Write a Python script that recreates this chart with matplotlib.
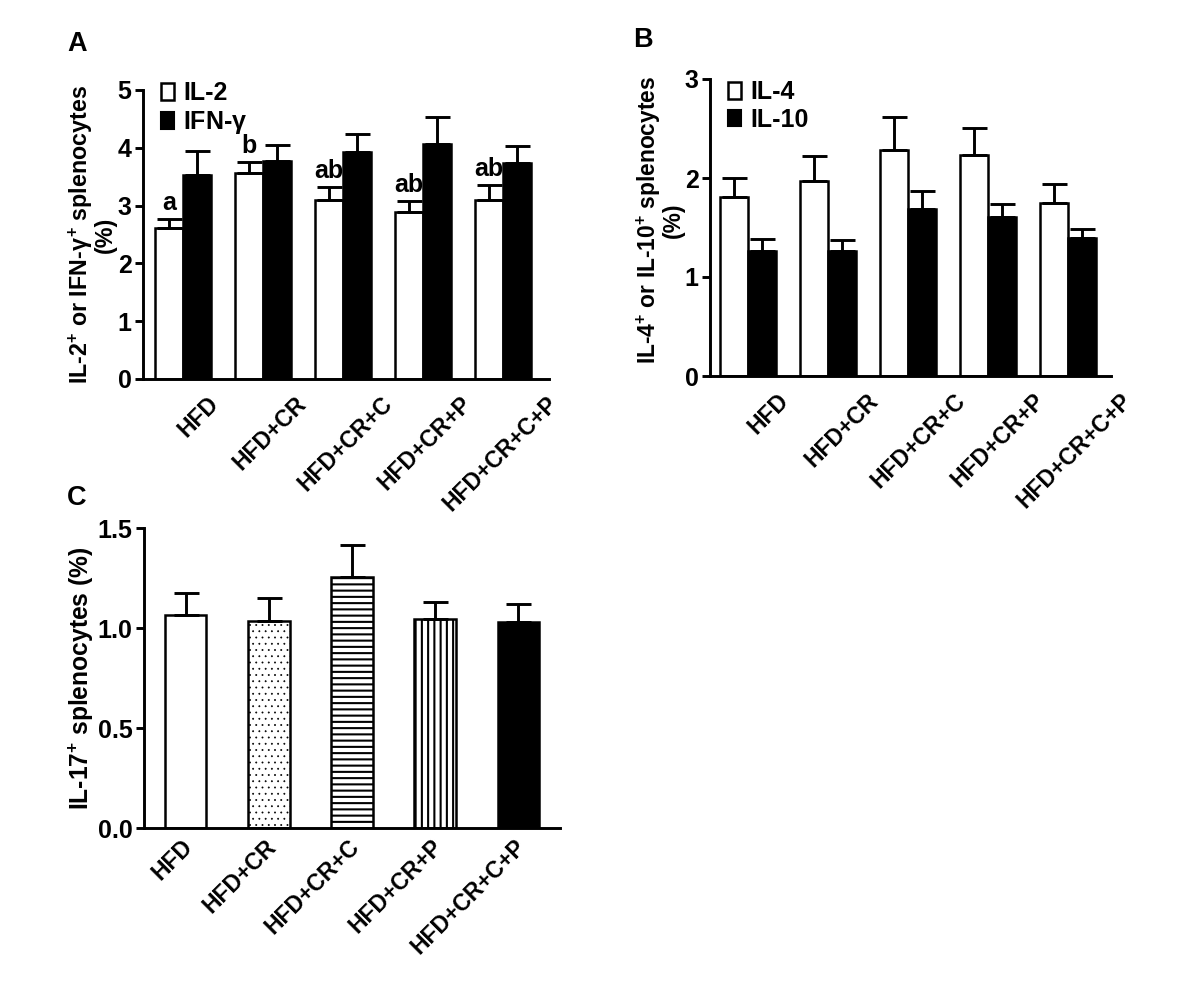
import matplotlib
matplotlib.use('Agg')
import matplotlib.pyplot as plt
import matplotlib.transforms as mtrans
from matplotlib.patches import Patch
import numpy as np

# ------  data  ------
groups = ['HFD', 'HFD+CR', 'HFD+CR+C', 'HFD+CR+P', 'HFD+CR+C+P']

il2 = [2.62, 3.57, 3.10, 2.89, 3.09]
il2_err = [0.15, 0.18, 0.22, 0.19, 0.27]
ifng = [3.53, 3.77, 3.93, 4.07, 3.74]
ifng_err = [0.41, 0.28, 0.31, 0.46, 0.29]
letters_a = ['a', 'b', 'ab', 'ab', 'ab']

il4 = [1.81, 1.97, 2.28, 2.23, 1.75]
il4_err = [0.19, 0.25, 0.34, 0.28, 0.19]
il10 = [1.26, 1.26, 1.69, 1.61, 1.39]
il10_err = [0.12, 0.11, 0.18, 0.13, 0.09]

il17 = [1.065, 1.035, 1.255, 1.045, 1.03]
il17_err = [0.11, 0.115, 0.16, 0.085, 0.09]

plt.rcParams['font.family'] = ['Liberation Sans', 'DejaVu Sans']
plt.rcParams['font.weight'] = 'bold'
plt.rcParams['mathtext.fontset'] = 'custom'
plt.rcParams['mathtext.rm'] = 'Liberation Sans:bold'
plt.rcParams['mathtext.bf'] = 'Liberation Sans:bold'
plt.rcParams['mathtext.it'] = 'Liberation Sans:bold'
plt.rcParams['hatch.linewidth'] = 1.0

DPI = 150
LW = 1.4
TICK_FS = 12
CAT_FS = 11
LAB_FS = 11.2

fig = plt.figure(figsize=(1200 / DPI, 1004 / DPI), dpi=DPI)
axA = fig.add_axes([143 / 1200, 1 - 379 / 1004, (549 - 143) / 1200, (379 - 90) / 1004])
axB = fig.add_axes([710 / 1200, 1 - 376 / 1004, (1111 - 710) / 1200, (376 - 79) / 1004])
axC = fig.add_axes([144 / 1200, 1 - 828 / 1004, (560 - 144) / 1200, (828 - 528) / 1004])


def style(ax):
    for s in ['top', 'right']:
        ax.spines[s].set_visible(False)
    for s in ['left', 'bottom']:
        ax.spines[s].set_linewidth(LW)
    ax.tick_params(axis='y', direction='out', length=4, width=LW, labelsize=TICK_FS, pad=1.5)
    ax.tick_params(axis='x', length=0)
    for t in ax.get_yticklabels():
        t.set_fontweight('bold')


def xlabels(ax, x, base, slope, dy):
    # rotated group names, end of text placed right of the group centre
    ax.set_xticks(x)
    ax.set_xticklabels(groups, rotation=45, ha='right', va='center',
                       rotation_mode='anchor', fontweight='bold', fontsize=CAT_FS)
    for t, g in zip(ax.get_xticklabels(), groups):
        off = mtrans.ScaledTranslation((base + slope * len(g)) / DPI, -dy / DPI,
                                       fig.dpi_scale_trans)
        t.set_transform(t.get_transform() + off)


def grouped(ax, v1, e1, v2, e2):
    x = np.arange(len(groups))
    w = 0.35
    ekw = dict(elinewidth=LW, capthick=LW, capsize=6, ecolor='black')
    ax.bar(x - w / 2, v1, w, color='white', edgecolor='black', linewidth=1.2,
           yerr=[np.zeros(len(v1)), e1], error_kw=ekw, zorder=2)
    ax.bar(x + w / 2, v2, w, color='black', edgecolor='black', linewidth=1.2,
           yerr=[np.zeros(len(v2)), e2], error_kw=ekw, zorder=2)
    return x, w


def legend(ax, names, y):
    ax.legend(handles=[Patch(facecolor='white', edgecolor='black', linewidth=1.2, label=names[0]),
                       Patch(facecolor='black', edgecolor='black', label=names[1])],
              loc='upper left', bbox_to_anchor=(0.0, y), frameon=False,
              fontsize=TICK_FS, handlelength=0.55, handleheight=0.65, handletextpad=0.35,
              labelspacing=0.15, borderaxespad=0.3)


# ------  A  ------
x, w = grouped(axA, il2, il2_err, ifng, ifng_err)
axA.set_xlim(-0.5, 4.58)
axA.set_ylim(0, 5)
axA.set_yticks([0, 1, 2, 3, 4, 5])
for i in range(len(groups)):
    axA.annotate(letters_a[i], (x[i] - w / 2, il2[i] + il2_err[i]), xytext=(0, 2),
                 textcoords='offset points', ha='center', va='bottom',
                 fontsize=TICK_FS, fontweight='bold')
axA.set_ylabel('IL-2$^{+}$ or IFN-$\\gamma^{+}$ splenocytes\n(%)', fontsize=LAB_FS,
               fontweight='bold', labelpad=0.2, linespacing=0.95)
style(axA)
xlabels(axA, x, 24, 2.7, 14)
legend(axA, ['IL-2', 'IFN-$\\gamma$'], 1.09)

# ------  B  ------
x, w = grouped(axB, il4, il4_err, il10, il10_err)
axB.set_xlim(-0.475, 4.54)
axB.set_ylim(0, 3)
axB.set_yticks([0, 1, 2, 3])
axB.set_ylabel('IL-4$^{+}$ or IL-10$^{+}$ splenocytes\n(%)', fontsize=10.9,
               fontweight='bold', labelpad=-0.4, linespacing=0.95)
axB.yaxis.label.set_y(0.525)
style(axB)
xlabels(axB, x, 28, 3.2, 14)
legend(axB, ['IL-4', 'IL-10'], 1.055)

# ------  C  ------
x = np.arange(len(groups))
faces = ['white', 'white', 'white', 'white', 'black']
hatches = ['', '....', '----', '||||', '']
hatch_lw = [1.0, 0.3, 1.0, 1.0, 1.0]
bars = axC.bar(x, il17, 0.5, color=faces, edgecolor='black', linewidth=1.2,
               yerr=[np.zeros(len(il17)), il17_err],
               error_kw=dict(elinewidth=LW, capthick=LW, capsize=6, ecolor='black'), zorder=2)
for b, h, hl in zip(bars, hatches, hatch_lw):
    b.set_hatch(h)
    if hasattr(b, 'set_hatch_linewidth'):
        b.set_hatch_linewidth(hl)
axC.set_xlim(-0.5, 4.5)
axC.set_ylim(0, 1.5)
axC.set_yticks([0.0, 0.5, 1.0, 1.5])
axC.set_yticklabels(['0.0', '0.5', '1.0', '1.5'])
axC.set_ylabel('IL-17$^{+}$ splenocytes (%)', fontsize=11.8, fontweight='bold', labelpad=0.6)
style(axC)
xlabels(axC, x, 4, 0, 8)

fig.text(67 / 1200, 1 - 44 / 1004, 'A', fontsize=13, fontweight='bold', va='center')
fig.text(633 / 1200, 1 - 40 / 1004, 'B', fontsize=13, fontweight='bold', va='center')
fig.text(67 / 1200, 1 - 498 / 1004, 'C', fontsize=13, fontweight='bold', va='center')

fig.savefig('out.png', dpi=DPI, facecolor='white')
